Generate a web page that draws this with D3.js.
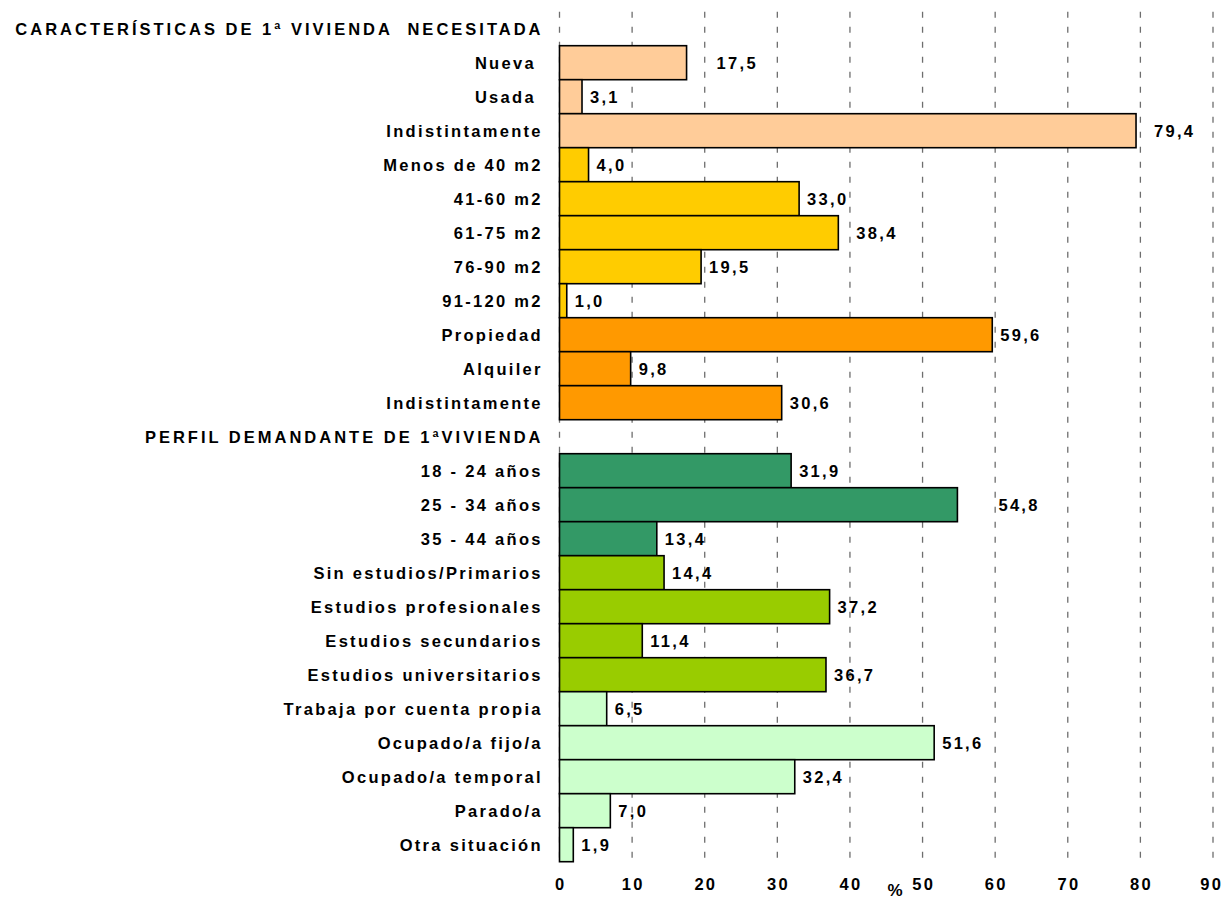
<!DOCTYPE html>
<html lang="es">
<head>
<meta charset="utf-8">
<title>Características de 1ª vivienda necesitada</title>
<script src="https://cdn.jsdelivr.net/npm/d3@7"></script>
<style>
  html, body { margin: 0; padding: 0; background: #fff; }
  #chart { width: 1223px; height: 899px; }
  text { font-family: Arial, "Liberation Sans", sans-serif; font-weight: bold; white-space: pre; }
</style>
</head>
<body>
<div id="chart"></div>
<script>
// Row labels, top to bottom (section headers have no value)
const categories = [
  "CARACTERÍSTICAS DE 1ª VIVIENDA  NECESITADA",
  "Nueva ", "Usada ", "Indistintamente",
  "Menos de 40 m2", "41-60 m2", "61-75 m2", "76-90 m2", "91-120 m2",
  "Propiedad", "Alquiler", "Indistintamente",
  "PERFIL DEMANDANTE DE 1ªVIVIENDA",
  "18 - 24 años", "25 - 34 años", "35 - 44 años",
  "Sin estudios/Primarios", "Estudios profesionales", "Estudios secundarios", "Estudios universitarios",
  "Trabaja por cuenta propia", "Ocupado/a fijo/a", "Ocupado/a temporal", "Parado/a", "Otra situación"
];

// Percentages (null = header row)
const values = [
  null,
  17.5, 3.1, 79.4,
  4.0, 33.0, 38.4, 19.5, 1.0,
  59.6, 9.8, 30.6,
  null,
  31.9, 54.8, 13.4,
  14.4, 37.2, 11.4, 36.7,
  6.5, 51.6, 32.4, 7.0, 1.9
];

// Group each row belongs to (drives the fill colour)
const groups = [
  "header",
  "estado", "estado", "estado",
  "superficie", "superficie", "superficie", "superficie", "superficie",
  "regimen", "regimen", "regimen",
  "header",
  "edad", "edad", "edad",
  "estudios", "estudios", "estudios", "estudios",
  "situacion", "situacion", "situacion", "situacion", "situacion"
];

const xTicks = [0, 10, 20, 30, 40, 50, 60, 70, 80, 90];

const groupColors = {
  estado: "#FFCC99",
  superficie: "#FFCC00",
  regimen: "#FF9900",
  edad: "#339966",
  estudios: "#99CC00",
  situacion: "#CCFFCC"
};

// A few value labels were dragged sideways in the original sheet
const labelNudge = { 1: 22, 3: 10, 6: 10, 14: 33 };

const W = 1223, H = 899;
const margin = { top: 11.7, right: 10, bottom: 37.3, left: 559.5 };
const FONT = 16.5;
const LETTER = 2.3;

const svg = d3.select("#chart").append("svg")
  .attr("width", W).attr("height", H)
  .attr("viewBox", `0 0 ${W} ${H}`);

const x = d3.scaleLinear().domain([0, 90]).range([margin.left, 1213]);
const y = d3.scaleBand()
  .domain(d3.range(categories.length))
  .range([margin.top, H - margin.bottom])
  .paddingInner(0).paddingOuter(0);

const rows = categories.map((c, i) => ({ i, label: c, value: values[i], group: groups[i] }));

// Dashed vertical grid
svg.append("g").attr("class", "grid")
  .selectAll("line").data(xTicks).join("line")
  .attr("x1", d => x(d)).attr("x2", d => x(d))
  .attr("y1", y.range()[0]).attr("y2", y.range()[1])
  .attr("stroke", "#6e6e6e")
  .attr("stroke-width", 1.3)
  .attr("stroke-dasharray", "6,9");

// Bars
const bars = rows.filter(d => d.value != null);
svg.append("g").attr("class", "bars")
  .selectAll("rect").data(bars).join("rect")
  .attr("x", x(0))
  .attr("y", d => y(d.i))
  .attr("width", d => x(d.value) - x(0))
  .attr("height", y.bandwidth())
  .attr("fill", d => groupColors[d.group])
  .attr("stroke", "#000")
  .attr("stroke-width", 1.6);

// Category labels (right aligned against the plot)
svg.append("g").attr("class", "cat-labels")
  .selectAll("text").data(rows).join("text")
  .attr("x", d => margin.left - 19 + (d.group === "header" ? 3 : LETTER))
  .attr("y", d => y(d.i) + y.bandwidth() / 2)
  .attr("dy", "0.36em")
  .attr("text-anchor", "end")
  .attr("font-size", FONT)
  .attr("letter-spacing", d => d.group === "header" ? 3 : LETTER)
  .attr("fill", "#000")
  .text(d => d.label);

// Value labels
const fmt = v => d3.format(".1f")(v).replace(".", ",");
svg.append("g").attr("class", "val-labels")
  .selectAll("text").data(bars).join("text")
  .attr("x", d => x(d.value) + 8 + (labelNudge[d.i] || 0))
  .attr("y", d => y(d.i) + y.bandwidth() / 2)
  .attr("dy", "0.36em")
  .attr("font-size", FONT)
  .attr("letter-spacing", LETTER)
  .attr("fill", "#000")
  .text(d => fmt(d.value));

// X tick labels (last one kept inside the frame)
svg.append("g").attr("class", "x-ticks")
  .selectAll("text").data(xTicks).join("text")
  .attr("x", (d, i) => i === xTicks.length - 1 ? W - 2 + LETTER : x(d) + LETTER / 2)
  .attr("y", 890)
  .attr("text-anchor", (d, i) => i === xTicks.length - 1 ? "end" : "middle")
  .attr("font-size", FONT)
  .attr("letter-spacing", LETTER)
  .attr("fill", "#000")
  .text(d => d);

svg.append("text")
  .attr("x", 895).attr("y", 896)
  .attr("text-anchor", "middle")
  .attr("font-size", 17)
  .attr("fill", "#000")
  .text("%");
</script>
</body>
</html>
